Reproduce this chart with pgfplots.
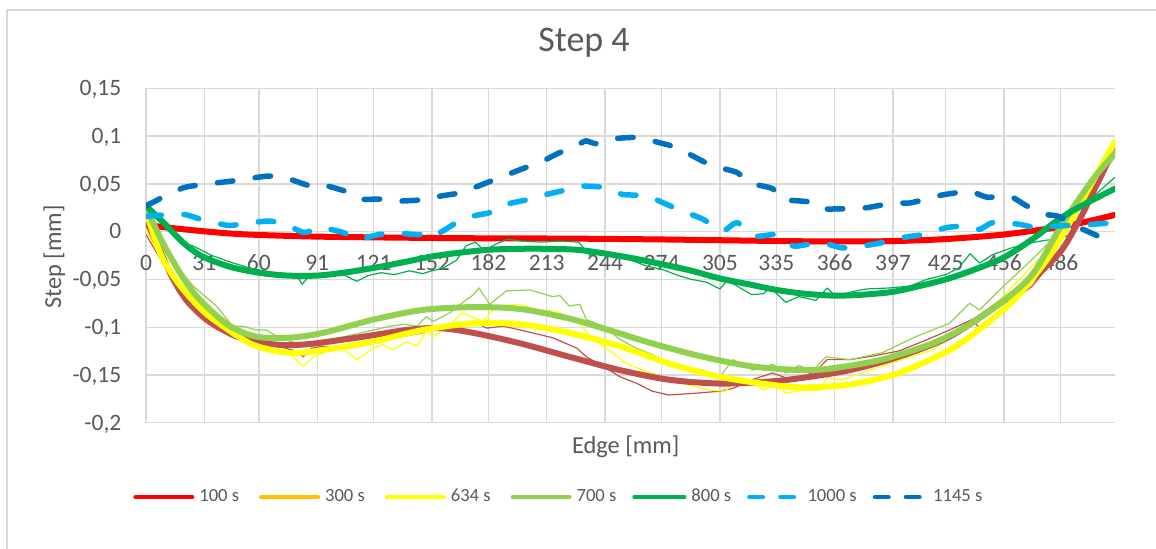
\documentclass[border=0pt]{standalone}
\usepackage{pgfplots}
\pgfplotsset{compat=1.18}
\usepackage{fontspec}
\setmainfont{Carlito}
\definecolor{cred}{HTML}{FF0000}
\definecolor{corange}{HTML}{FFC000}
\definecolor{cyellow}{HTML}{FFFF00}
\definecolor{clgreen}{HTML}{92D050}
\definecolor{cgreen}{HTML}{00B050}
\definecolor{clblue}{HTML}{00B0F0}
\definecolor{cdblue}{HTML}{0070C0}
\definecolor{cbrown}{HTML}{C0504D}
\definecolor{gridc}{HTML}{D9D9D9}
\definecolor{txt}{HTML}{595959}
\pgfplotsset{
  legthick/.style={legend image code/.code={\path[draw=none,fill=none] (0pt,0pt) -- (32.5pt,0pt);\draw[#1,solid,line width=2.35pt,line cap=round] (3.175pt,0pt) -- (31.325pt,0pt);}},
  legthin/.style={legend image code/.code={\path[draw=none,fill=none] (0pt,0pt) -- (26.65pt,0pt);\draw[#1,solid,line width=1.65pt,line cap=round] (0.825pt,0pt) -- (26.175pt,0pt);}},
  legdash/.style={legend image code/.code={\path[draw=none,fill=none] (0pt,0pt) -- (27.7pt,0pt);\draw[#1,line width=2.35pt,line cap=round,dash pattern=on 6.65pt off 8.85pt] (1.175pt,0pt) -- (23.4pt,0pt);}},
  trendline/.style={line width=3pt, line cap=round, line join=round, smooth},
  dataline/.style={line width=0.6pt, line join=round},
  dashd/.style={line width=2.75pt, line cap=round, line join=round, dash pattern=on 7.75pt off 11.25pt, smooth, tension=0.4},
}
\begin{document}
\begin{tikzpicture}
\useasboundingbox (0pt,0pt) rectangle (578pt,274pt);
\draw[gridc, line width=0.65pt] (3.5pt,-2pt) -- (3.5pt,269pt) -- (580pt,269pt);
\begin{axis}[
  at={(73pt,62.65pt)}, anchor=south west,
  scale only axis, width=484.5pt, height=167.2pt,
  xmin=0, xmax=515, ymin=-0.2, ymax=0.15,
  axis line style={draw=none},
  major tick length=0pt,
  grid=major,
  major grid style={draw=gridc, line width=0.65pt},
  xtick={0,31,60,91,121,152,182,213,244,274,305,335,366,397,425,456,486},
  xticklabels={0,31,60,91,121,152,182,213,244,274,305,335,366,397,425,456,486},
  ytick={-0.2,-0.15,-0.1,-0.05,0,0.05,0.1,0.15},
  yticklabels={{-0,2},{-0,15},{-0,1},{-0,05},{0},{0,05},{0,1},{0,15}},
  xticklabel style={anchor=base, yshift=76pt, font=\fontsize{11.75pt}{14pt}\selectfont, text=txt},
  yticklabel style={anchor=base east, inner sep=0pt, xshift=-12.15pt, yshift=-3.65pt, font=\fontsize{11.75pt}{14pt}\selectfont, text=txt},
  title={Step 4},
  title style={at={(axis description cs:0.452,1.0748)}, anchor=base, yshift=0pt, font=\fontsize{18pt}{21pt}\selectfont, text=txt},
  xlabel={Edge [mm]},
  xlabel style={at={(axis description cs:0.495,-0.0915)}, anchor=base, font=\fontsize{12.2pt}{14pt}\selectfont, text=txt},
  ylabel={Step [mm]},
  ylabel style={at={(axis description cs:-0.0877,0.4955)}, anchor=base, font=\fontsize{12.2pt}{14pt}\selectfont, text=txt},
  legend columns=7,
  legend style={draw=none, fill=none, at={(axis description cs:-0.0176,-0.2222)}, anchor=west, inner sep=0pt,
    font=\fontsize{9.3pt}{11pt}\selectfont, text=txt, nodes={inner sep=0pt},
    /tikz/every odd column/.append style={column sep=2.5pt},
    /tikz/every even column/.append style={column sep=8pt}},
]
% 100 s (thick red)
\addplot[forget plot, trendline, draw=cred] coordinates {(0,0.007) (15,0.0035) (30,0.0005) (45,-0.002) (60,-0.0035) (90,-0.0052) (120,-0.006) (150,-0.0066) (180,-0.007) (213,-0.0072) (244,-0.0076) (274,-0.0082) (305,-0.009) (335,-0.0098) (366,-0.0103) (397,-0.0099) (425,-0.0078) (456,-0.003) (486,0.005) (500,0.0105) (515,0.0175)};
% thin brown data
\addplot[forget plot, dataline, draw=cbrown] coordinates {(0,-0.003) (8,-0.03) (16,-0.057) (24,-0.078) (32,-0.094) (42,-0.106) (52,-0.113) (62,-0.117) (72,-0.121) (80,-0.125) (83.5,-0.131) (88,-0.122) (94,-0.120) (103,-0.122) (112,-0.118) (121,-0.113) (130,-0.111) (138.5,-0.109) (147,-0.106) (156,-0.101) (165,-0.097) (174,-0.094) (181,-0.101) (190,-0.099) (199,-0.103) (216,-0.111) (229,-0.122) (234,-0.131) (243,-0.141) (252,-0.152) (261,-0.159) (269,-0.167) (278,-0.171) (293,-0.169) (305,-0.167) (312,-0.164) (322,-0.155) (333,-0.148) (340,-0.153) (349,-0.152) (356,-0.146) (362,-0.134) (374,-0.134) (387,-0.130) (400,-0.125) (414,-0.114) (427,-0.103) (439,-0.092) (443,-0.101) (454,-0.082) (463,-0.069) (471,-0.057) (478,-0.04) (485,-0.022) (495,0.01) (505,0.048) (515,0.087)};
% thin yellow data
\addplot[forget plot, dataline, draw=cyellow] coordinates {(0,0.002) (8,-0.028) (16,-0.055) (24,-0.077) (32,-0.092) (42,-0.106) (50,-0.114) (59,-0.122) (67,-0.124) (75,-0.125) (83.5,-0.141) (89,-0.131) (96,-0.125) (103,-0.120) (112,-0.134) (121,-0.122) (126,-0.118) (131,-0.124) (138.5,-0.115) (144,-0.120) (149,-0.104) (152.5,-0.110) (161,-0.099) (168,-0.085) (174,-0.090) (179,-0.094) (186,-0.078) (199,-0.076) (207.5,-0.082) (218,-0.083) (230.5,-0.096) (236,-0.110) (246,-0.124) (255,-0.138) (264,-0.145) (275,-0.152) (287,-0.160) (300,-0.166) (308,-0.167) (312,-0.159) (321,-0.155) (328,-0.166) (335,-0.160) (340,-0.169) (349,-0.166) (358,-0.166) (362,-0.153) (370,-0.155) (391,-0.141) (418,-0.124) (436,-0.099) (443,-0.091) (454,-0.071) (471,-0.036) (485.5,-0.008) (500,0.045) (515,0.092)};
% thin light green data
\addplot[forget plot, dataline, draw=clgreen] coordinates {(0,0.02) (9,-0.012) (18,-0.040) (25,-0.057) (37.5,-0.078) (46,-0.099) (51.5,-0.099) (59,-0.103) (64,-0.103) (71,-0.111) (80,-0.117) (85,-0.120) (92,-0.115) (103,-0.111) (121,-0.103) (129.6,-0.099) (136.7,-0.097) (144,-0.099) (149,-0.089) (152.6,-0.094) (161.5,-0.085) (168.5,-0.074) (174,-0.066) (177,-0.059) (182.7,-0.076) (191.6,-0.062) (204,-0.061) (216,-0.068) (220,-0.067) (225,-0.078) (230.5,-0.076) (234,-0.092) (243,-0.099) (252,-0.113) (260.6,-0.122) (269.5,-0.129) (278,-0.138) (296,-0.145) (305,-0.152) (312,-0.134) (322.6,-0.145) (333,-0.139) (340,-0.148) (347,-0.140) (354,-0.146) (361.5,-0.131) (374,-0.134) (391,-0.127) (409,-0.110) (427,-0.096) (437.7,-0.075) (443,-0.082) (453.6,-0.061) (471,-0.029) (485.5,-0.001) (500,0.04) (515,0.078)};
% thin green data
\addplot[forget plot, dataline, draw=cgreen] coordinates {(0,0.025) (10,0.005) (20,-0.012) (25,-0.015) (35,-0.025) (45,-0.032) (55,-0.038) (65,-0.042) (75,-0.045) (80,-0.046) (83,-0.055) (87,-0.046) (95,-0.045) (105,-0.045) (112,-0.052) (118,-0.046) (125,-0.043) (132,-0.045) (140,-0.041) (147,-0.044) (152,-0.041) (158,-0.038) (165,-0.03) (170,-0.015) (175,-0.011) (180,-0.02) (186,-0.013) (192,-0.008) (200,-0.01) (210,-0.011) (220,-0.01) (230,-0.011) (236,-0.025) (242,-0.02) (250,-0.024) (258,-0.03) (266,-0.036) (275,-0.04) (283,-0.046) (290,-0.05) (298,-0.053) (305,-0.06) (309,-0.051) (315,-0.058) (322,-0.066) (328,-0.065) (332,-0.059) (340,-0.074) (347,-0.068) (356,-0.072) (362,-0.059) (367,-0.068) (375,-0.063) (383,-0.06) (395,-0.059) (406,-0.057) (415,-0.05) (425,-0.045) (432,-0.038) (438,-0.023) (443,-0.033) (450,-0.024) (460,-0.017) (470,-0.012) (478,-0.009) (485,-0.008) (490,-0.004) (496,0.015) (503,0.036) (515,0.057)};
% thick brown
\addplot[forget plot, trendline, draw=cbrown] coordinates {(0,0.013) (7,-0.018) (14.5,-0.050) (22,-0.073) (32,-0.092) (41,-0.103) (50,-0.111) (67.6,-0.118) (85,-0.118) (112,-0.111) (138.5,-0.103) (156,-0.101) (174,-0.106) (199,-0.117) (225,-0.131) (252,-0.145) (278,-0.155) (305,-0.159) (331,-0.157) (349,-0.153) (374,-0.145) (400,-0.131) (427,-0.110) (454,-0.075) (471,-0.050) (486,-0.021) (496,0.012) (503,0.040) (510,0.068) (515,0.089)};
% thick yellow
\addplot[forget plot, trendline, draw=cyellow] coordinates {(0,0.022) (7.4,-0.022) (15,-0.048) (23,-0.068) (32,-0.086) (41,-0.099) (50,-0.111) (59,-0.120) (76.5,-0.127) (94,-0.124) (121,-0.115) (147,-0.103) (174,-0.096) (199,-0.097) (225,-0.106) (252,-0.120) (278,-0.138) (305,-0.152) (331,-0.160) (349,-0.163) (374,-0.160) (400,-0.148) (427,-0.124) (445,-0.099) (463,-0.068) (480,-0.026) (492,0.013) (503,0.052) (515,0.094)};
% thick light green
\addplot[forget plot, trendline, draw=clgreen] coordinates {(0,0.025) (9,-0.012) (18,-0.043) (25,-0.063) (32,-0.078) (44.6,-0.099) (58.8,-0.110) (76.5,-0.111) (94,-0.106) (121,-0.092) (147,-0.082) (174,-0.079) (199,-0.081) (225,-0.091) (246,-0.103) (269,-0.117) (296,-0.131) (322,-0.141) (349,-0.145) (365,-0.143) (391,-0.134) (418,-0.117) (436,-0.099) (454,-0.075) (471,-0.045) (487,0.008) (503,0.054) (515,0.082)};
% thick green
\addplot[forget plot, trendline, draw=cgreen] coordinates {(0,0.027) (10,0.008) (20,-0.012) (30,-0.026) (45,-0.037) (60,-0.043) (75,-0.046) (91,-0.046) (105,-0.043) (121,-0.038) (137,-0.032) (152,-0.026) (167,-0.022) (182,-0.019) (198,-0.018) (213,-0.018) (229,-0.019) (244,-0.023) (259,-0.028) (274,-0.034) (290,-0.041) (305,-0.049) (320,-0.055) (335,-0.061) (350,-0.065) (366,-0.067) (381,-0.066) (397,-0.063) (411,-0.057) (425,-0.050) (440,-0.040) (456,-0.027) (471,-0.008) (486,0.014) (500,0.030) (515,0.045)};
% 1000 s dashed light blue
\addplot[forget plot, dashd, draw=clblue] coordinates {(0,0.016) (5.7,0.017) (20,0.018) (29,0.013) (43,0.0066) (50,0.0077) (64,0.011) (73,0.0087) (84,-0.001) (92,0.0042) (105,-0.001) (112,-0.008) (124,-0.003) (135,-0.002) (145.5,-0.003) (151,0.0024) (156,-0.001) (165,0.0094) (174,0.0164) (183,0.020) (192,0.0287) (204,0.034) (213,0.039) (225,0.0444) (232,0.0476) (245,0.046) (253,0.039) (266,0.0374) (275,0.030) (285,0.0216) (296,0.013) (306.5,0.0007) (314,0.0094) (324.5,-0.0046) (335,-0.003) (344,-0.015) (353,-0.013) (362,-0.013) (370,-0.017) (381,-0.015) (391,-0.0116) (402,-0.0063) (413,-0.003) (425,0.004) (434,0.0056) (443,0.0024) (450,0.0094) (464,0.0077) (473,0.004) (482,0.0056) (503,0.0077) (515,0.0094)};
% 1145 s dashed dark blue
\addplot[forget plot, dashd, draw=cdblue] coordinates {(0,0.027) (10,0.037) (20,0.046) (29,0.049) (46,0.053) (64,0.058) (73,0.057) (87,0.048) (92,0.050) (108,0.041) (114,0.034) (124,0.034) (135,0.032) (151,0.034) (156,0.037) (168,0.041) (177,0.048) (190,0.058) (199,0.065) (211,0.074) (218,0.081) (230.5,0.092) (234,0.095) (239.5,0.092) (248,0.097) (261,0.0985) (273,0.093) (282,0.088) (292.7,0.077) (301,0.069) (314,0.062) (321,0.051) (333,0.045) (338,0.034) (353,0.031) (358,0.024) (372,0.024) (383,0.025) (397,0.030) (406,0.030) (418,0.036) (425,0.039) (438,0.042) (447,0.036) (459,0.037) (468,0.027) (478.5,0.018) (485,0.016) (496,0.0042) (508,-0.0063) (511,-0.009)};
\addlegendimage{legthick=cred}\addlegendentry{100 s}
\addlegendimage{legthick=corange}\addlegendentry{300 s}
\addlegendimage{legthick=cyellow}\addlegendentry{634 s}
\addlegendimage{legthick=clgreen}\addlegendentry{700 s}
\addlegendimage{legthin=cgreen}\addlegendentry{800 s}
\addlegendimage{legdash=clblue}\addlegendentry{1000 s}
\addlegendimage{legdash=cdblue}\addlegendentry{1145 s}
\end{axis}
\end{tikzpicture}
\end{document}
